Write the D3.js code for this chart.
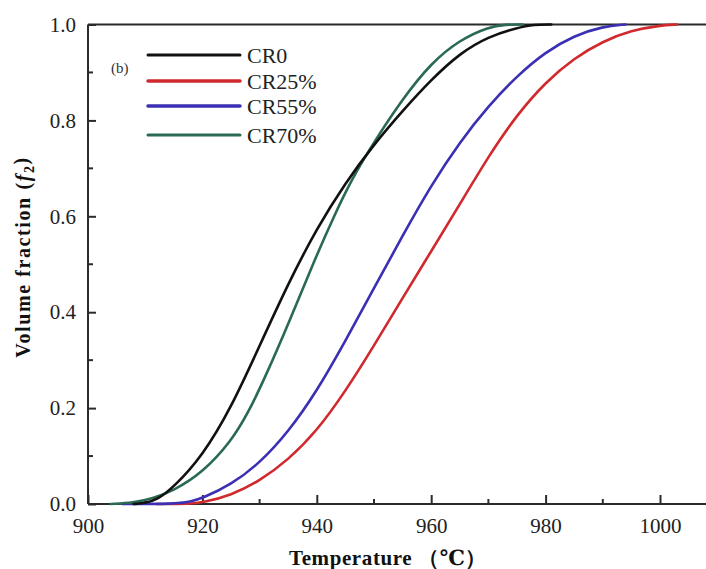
<!DOCTYPE html>
<html>
<head>
<meta charset="utf-8">
<script src="https://cdn.jsdelivr.net/npm/d3@7"></script>
<style>
  html, body { margin: 0; padding: 0; background: #fff; }
  svg { display: block; }
</style>
</head>
<body>
<div id="chart"></div>
<script>
// ---- Data ----
const seriesNames = ["CR0", "CR25%", "CR55%", "CR70%"];
const seriesColors = ["#111111", "#d02a2e", "#3b30b4", "#2b6a52"];

const tempCR0   = [908, 910, 912, 915, 920, 925, 930, 935, 940, 945, 950, 955, 960, 965, 970, 975, 978, 981];
const fracCR0   = [0, 0.002, 0.008, 0.035, 0.10, 0.20, 0.33, 0.46, 0.575, 0.67, 0.75, 0.82, 0.885, 0.94, 0.975, 0.993, 1.0, 1.0];

const tempCR25  = [912, 918, 920, 925, 930, 935, 940, 945, 950, 955, 960, 965, 970, 975, 980, 985, 990, 995, 1000, 1003];
const fracCR25  = [0, 0, 0.003, 0.018, 0.048, 0.092, 0.152, 0.235, 0.33, 0.43, 0.527, 0.625, 0.725, 0.812, 0.88, 0.93, 0.965, 0.988, 0.998, 1.0];

const tempCR55  = [906, 915, 918, 920, 925, 930, 935, 940, 945, 950, 955, 960, 965, 970, 975, 980, 985, 990, 994];
const fracCR55  = [0, 0, 0.005, 0.012, 0.04, 0.085, 0.15, 0.235, 0.34, 0.45, 0.56, 0.665, 0.755, 0.83, 0.893, 0.943, 0.977, 0.996, 1.0];

const tempCR70  = [904, 908, 911, 915, 920, 925, 928, 931, 935, 940, 943, 946, 950, 955, 960, 965, 970, 973, 976];
const fracCR70  = [0, 0.003, 0.01, 0.028, 0.065, 0.13, 0.19, 0.265, 0.375, 0.52, 0.6, 0.675, 0.755, 0.845, 0.92, 0.968, 0.995, 1.0, 1.0];

const xTickValues = [900, 920, 940, 960, 980, 1000];
const xMinorTicks = [910, 930, 950, 970, 990];
const yTickValues = [0, 0.2, 0.4, 0.6, 0.8, 1.0];
const yMinorTicks = [0.1, 0.3, 0.5, 0.7, 0.9];

const series = [
  { name: seriesNames[0], color: seriesColors[0], t: tempCR0,  f: fracCR0 },
  { name: seriesNames[1], color: seriesColors[1], t: tempCR25, f: fracCR25 },
  { name: seriesNames[2], color: seriesColors[2], t: tempCR55, f: fracCR55 },
  { name: seriesNames[3], color: seriesColors[3], t: tempCR70, f: fracCR70 }
];

// ---- Layout ----
const W = 706, H = 569;
const mLeft = 88, mTop = 24.5, mBottom = 504;
const x = d3.scaleLinear().domain([900, 1010]).range([mLeft, mLeft + 110 * 5.72]);
const y = d3.scaleLinear().domain([0, 1]).range([mBottom, mTop]);

const svg = d3.select("#chart").append("svg").attr("width", W).attr("height", H);
const axisColor = "#2b2b2b";
const serif = "'Liberation Serif', 'DejaVu Serif', serif";

// top frame line
svg.append("line").attr("x1", mLeft).attr("x2", W).attr("y1", mTop).attr("y2", mTop)
  .attr("stroke", axisColor).attr("stroke-width", 2);

// x axis (ticks inward)
const xAxis = d3.axisBottom(x).tickValues(xTickValues).tickSize(-9).tickPadding(14).tickFormat(d3.format("d"));
const gx = svg.append("g").attr("transform", `translate(0,${mBottom})`).call(xAxis);
gx.select(".domain").attr("d", `M${mLeft},0H${W + 20}`).attr("stroke", axisColor).attr("stroke-width", 2);
gx.selectAll(".tick line").attr("stroke", axisColor).attr("stroke-width", 2);
gx.selectAll(".tick text").attr("font-family", serif).attr("font-size", 21).attr("fill", "#222");
gx.selectAll(".minor").data(xMinorTicks).enter().append("line")
  .attr("x1", d => x(d)).attr("x2", d => x(d)).attr("y1", 0).attr("y2", -5)
  .attr("stroke", axisColor).attr("stroke-width", 2);

// y axis (ticks inward)
const yAxis = d3.axisLeft(y).tickValues(yTickValues).tickSize(-8).tickPadding(12).tickFormat(d3.format(".1f"));
const gy = svg.append("g").attr("transform", `translate(${mLeft},0)`).call(yAxis);
gy.select(".domain").attr("d", `M0,${mBottom}V${mTop}`).attr("stroke", axisColor).attr("stroke-width", 2);
gy.selectAll(".tick line").attr("stroke", axisColor).attr("stroke-width", 2);
gy.selectAll(".tick text").attr("font-family", serif).attr("font-size", 21).attr("fill", "#222");
gy.selectAll(".minor").data(yMinorTicks).enter().append("line")
  .attr("x1", 0).attr("x2", 5).attr("y1", d => y(d)).attr("y2", d => y(d))
  .attr("stroke", axisColor).attr("stroke-width", 2);

// curves
const line = d3.line().x(d => x(d[0])).y(d => y(d[1])).curve(d3.curveBasis);
const drawOrder = [1, 2, 3, 0];
drawOrder.forEach(i => {
  const s = series[i];
  const pts = s.t.map((t, k) => [t, s.f[k]]);
  svg.append("path").datum(pts).attr("d", line)
    .attr("fill", "none").attr("stroke", s.color).attr("stroke-width", 2.6)
    .attr("stroke-linejoin", "round").attr("stroke-linecap", "round");
});

// legend
const legY = [55, 81, 106, 135];
series.forEach((s, i) => {
  svg.append("line").attr("x1", 148).attr("x2", 240).attr("y1", legY[i]).attr("y2", legY[i])
    .attr("stroke", s.color).attr("stroke-width", i === 1 || i === 2 ? 3.5 : 3).attr("stroke-linecap", "round");
  svg.append("text").attr("x", 247).attr("y", legY[i]).attr("dy", "0.35em")
    .attr("font-family", serif).attr("font-size", 22).attr("fill", "#222").text(s.name);
});
svg.append("text").attr("x", 111).attr("y", 68).attr("dy", "0.35em")
  .attr("font-family", serif).attr("font-size", 15).attr("fill", "#333").text("(b)");

// axis titles
svg.append("text").attr("x", 388).attr("y", 558).attr("dy", "0.35em").attr("text-anchor", "middle")
  .attr("font-family", serif).attr("font-size", 21).attr("font-weight", "bold").attr("fill", "#111")
  .attr("letter-spacing", 0.6)
  .text("Temperature （℃）");

const yt = svg.append("text").attr("transform", "translate(23,257) rotate(-90)")
  .attr("text-anchor", "middle").attr("dy", "0.35em")
  .attr("font-family", serif).attr("font-size", 20).attr("font-weight", "bold").attr("fill", "#111")
  .attr("letter-spacing", 1.6);
yt.append("tspan").text("Volume fraction  (");
yt.append("tspan").attr("font-style", "italic").text("f");
yt.append("tspan").attr("font-size", 14).attr("dy", "0.3em").text("2");
yt.append("tspan").attr("dy", "-0.3em").text(")");
</script>
</body>
</html>
